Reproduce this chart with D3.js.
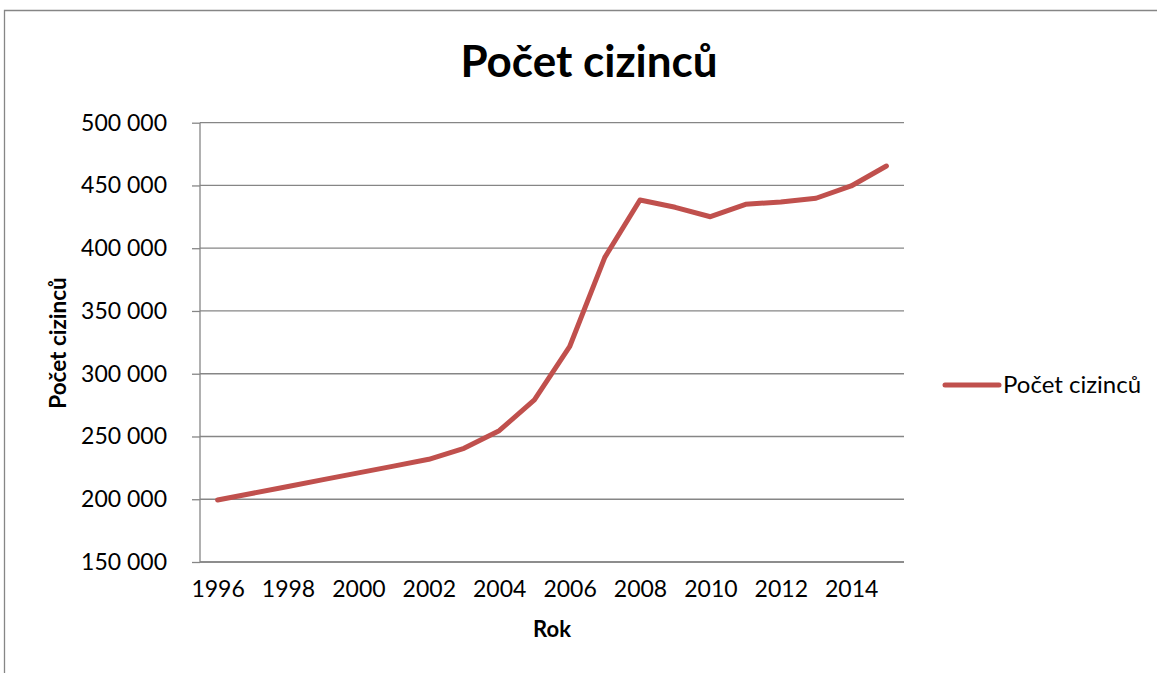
<!DOCTYPE html>
<html>
<head>
<meta charset="utf-8">
<script src="https://cdn.jsdelivr.net/npm/d3@7"></script>
<style>
  html, body { margin: 0; padding: 0; background: #fff; }
  svg { display: block; }
  text { font-family: Lato, "Open Sans", sans-serif; fill: #000; }
</style>
</head>
<body>
<svg id="chart" width="1157" height="673"></svg>
<script>
const title = "Počet cizinců";
const seriesName = "Počet cizinců";
const xTitle = "Rok";
const yTitle = "Počet cizinců";
const years = [1996,1997,1998,1999,2000,2001,2002,2003,2004,2005,2006,2007,2008,2009,2010,2011,2012,2013,2014,2015];
const values = [199400,204800,210200,215600,221000,226400,231800,240600,254600,279100,321500,392700,438400,432600,425100,435000,436800,439800,449600,465500];
const yTicks = [150000,200000,250000,300000,350000,400000,450000,500000];
const xTickLabels = [1996,1998,2000,2002,2004,2006,2008,2010,2012,2014];

const svg = d3.select("#chart");
const W = 1157, H = 673;
const plot = {left: 200, right: 904, top: 122.7, bottom: 562};
const grey = "#868686";
const red = "#C0504D";

// outer chart border
svg.append("path")
  .attr("d", `M4.5,${H} L4.5,10.5 L${W},10.5`)
  .attr("fill", "none").attr("stroke", grey).attr("stroke-width", 1.3);

const x = d3.scalePoint().domain(years).range([plot.left, plot.right]).padding(0.5);
const y = d3.scaleLinear().domain([150000, 500000]).range([plot.bottom, plot.top]);

// gridlines
svg.append("g").selectAll("line").data(yTicks).join("line")
  .attr("x1", plot.left).attr("x2", plot.right)
  .attr("y1", d => y(d)).attr("y2", d => y(d))
  .attr("stroke", grey).attr("stroke-width", 1.3);

// y axis
const fmt = d => d3.format(",")(d).replace(/,/g, "\u00a0");
const yAxis = svg.append("g").attr("transform", `translate(${plot.left},0)`)
  .call(d3.axisLeft(y).tickValues(yTicks).tickSize(8).tickPadding(25).tickFormat(fmt));
yAxis.select(".domain").attr("stroke", grey).attr("stroke-width", 1.3).attr("d", `M0,${plot.top}V${plot.bottom}`);
yAxis.selectAll(".tick line").attr("stroke", grey).attr("stroke-width", 1.3);
yAxis.selectAll(".tick text").attr("font-family", "Lato").attr("font-size", 23).attr("fill", "#000");

// x axis
const xAxis = svg.append("g").attr("transform", `translate(0,${plot.bottom})`)
  .call(d3.axisBottom(x).tickValues(xTickLabels).tickSize(0).tickPadding(19));
xAxis.select(".domain").attr("stroke", grey).attr("stroke-width", 1.3).attr("d", `M${plot.left},0H${plot.right}`);
xAxis.selectAll(".tick text").attr("font-family", "Lato").attr("font-size", 23).attr("fill", "#000");

// line
const line = d3.line().x((d, i) => x(years[i])).y(d => y(d));
svg.append("path").datum(values)
  .attr("d", line)
  .attr("fill", "none").attr("stroke", red).attr("stroke-width", 5)
  .attr("stroke-linecap", "round").attr("stroke-linejoin", "round");

// title
svg.append("text").attr("x", 589).attr("y", 77).attr("text-anchor", "middle")
  .attr("font-size", 44).attr("font-weight", "bold").text(title);

// axis titles
svg.append("text").attr("x", 552).attr("y", 637).attr("text-anchor", "middle")
  .attr("font-size", 22).attr("font-weight", "bold").text(xTitle);
svg.append("text").attr("transform", "translate(66,343) rotate(-90)").attr("text-anchor", "middle")
  .attr("font-size", 22.5).attr("font-weight", "bold").text(yTitle);

// legend
const leg = svg.append("g");
leg.append("line").attr("x1", 945).attr("x2", 999).attr("y1", 385).attr("y2", 385)
  .attr("stroke", red).attr("stroke-width", 5).attr("stroke-linecap", "round");
leg.append("text").attr("x", 1003).attr("y", 393).attr("font-size", 24).text(seriesName);
</script>
</body>
</html>
